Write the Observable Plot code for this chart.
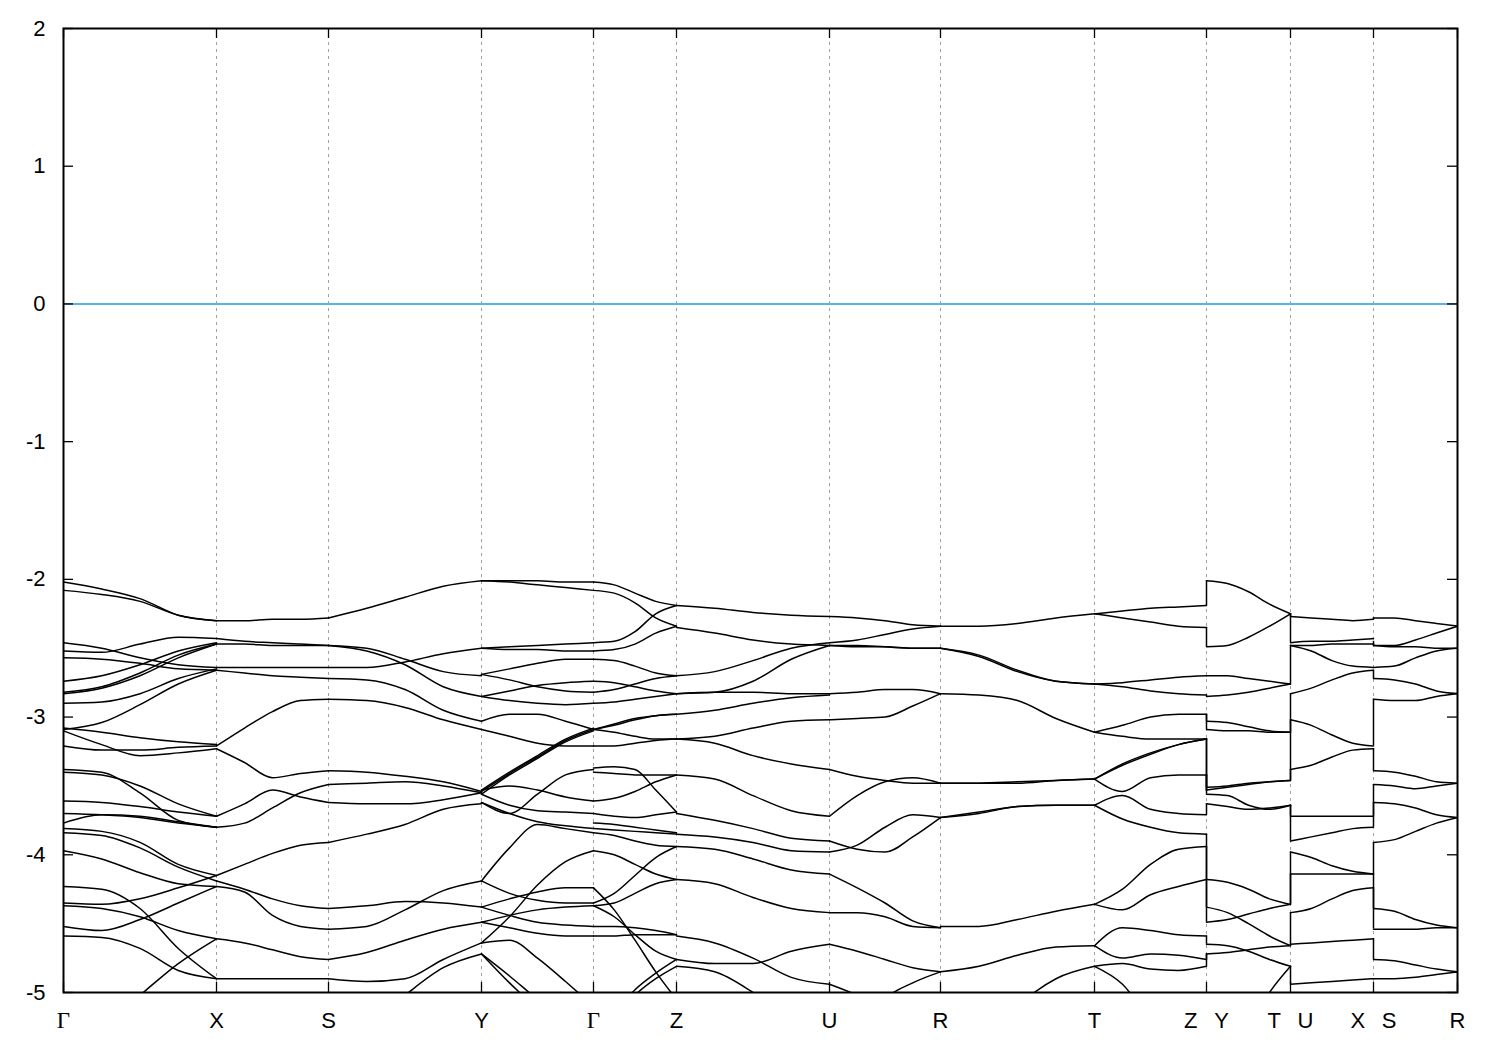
<!DOCTYPE html>
<html><head><meta charset="utf-8">
<script src="https://cdn.jsdelivr.net/npm/d3@7"></script>
<script src="https://cdn.jsdelivr.net/npm/@observablehq/plot@0.6"></script>
<style>html,body{margin:0;padding:0;background:#fff}svg{display:block}</style>
</head><body><div id="chart"></div>
<script>
// k-path node positions (fraction of total path length) and labels
const kNodes = [0, 0.10976, 0.19010, 0.29986, 0.38020, 0.43974, 0.54950, 0.62912, 0.73960, 0.81994, 0.88020, 0.93974, 1.0];
const kLabels = ["Γ","X","S","Y","Γ","Z","U","R","T","Z|Y","T|U","X|S","R"];
const yTicks = [-5, -4, -3, -2, -1, 0, 1, 2];

// Band energies (eV) sampled at 0, 1/4, 1/2, 3/4, 1 of each path segment
const bands_GX = [
  [-2.02,-2.07,-2.14,-2.26,-2.30],[-2.08,-2.11,-2.16,-2.26,-2.30],
  [-2.46,-2.50,-2.57,-2.62,-2.64],[-2.52,-2.53,-2.47,-2.42,-2.43],[-2.57,-2.58,-2.61,-2.65,-2.66],
  [-2.74,-2.70,-2.62,-2.52,-2.46],[-2.82,-2.78,-2.68,-2.55,-2.47],[-2.83,-2.79,-2.70,-2.57,-2.47],
  [-2.90,-2.89,-2.83,-2.72,-2.65],[-3.09,-3.04,-2.91,-2.76,-2.66],
  [-3.08,-3.11,-3.15,-3.18,-3.20],[-3.10,-3.20,-3.28,-3.26,-3.23],[-3.21,-3.24,-3.24,-3.22,-3.21],
  [-3.38,-3.40,-3.55,-3.75,-3.80],[-3.40,-3.42,-3.50,-3.63,-3.72],
  [-3.61,-3.62,-3.65,-3.69,-3.72],[-3.70,-3.71,-3.73,-3.77,-3.80],[-3.77,-3.71,-3.72,-3.76,-3.80],
  [-3.81,-3.83,-3.91,-4.07,-4.15],[-3.84,-3.86,-3.95,-4.09,-4.19],
  [-3.97,-4.03,-4.13,-4.21,-4.23],[-4.35,-4.36,-4.32,-4.24,-4.15],[-4.37,-4.39,-4.45,-4.55,-4.61],
  [-4.23,-4.25,-4.39,-4.68,-4.90],[-4.52,-4.55,-4.47,-4.35,-4.23],[-4.59,-4.60,-4.68,-4.84,-4.90],
  [-5.45,-5.25,-5.02,-4.79,-4.61]
];
const bands_XS = [
  [-2.30,-2.30,-2.29,-2.29,-2.28],[-2.43,-2.45,-2.46,-2.47,-2.48],[-2.47,-2.47,-2.48,-2.48,-2.48],
  [-2.64,-2.64,-2.64,-2.64,-2.64],[-2.66,-2.68,-2.70,-2.71,-2.72],
  [-3.21,-3.08,-2.96,-2.88,-2.87],[-3.23,-3.33,-3.44,-3.41,-3.39],
  [-3.72,-3.63,-3.53,-3.58,-3.62],[-3.80,-3.77,-3.66,-3.55,-3.49],
  [-4.15,-4.07,-3.99,-3.93,-3.91],[-4.19,-4.25,-4.32,-4.37,-4.39],[-4.23,-4.27,-4.44,-4.52,-4.54],
  [-4.61,-4.64,-4.69,-4.74,-4.76],[-4.90,-4.90,-4.90,-4.90,-4.90]
];
const bands_SY = [
  [-2.28,-2.21,-2.13,-2.05,-2.01],
  [-2.48,-2.50,-2.58,-2.67,-2.70],[-2.48,-2.52,-2.62,-2.78,-2.85],[-2.64,-2.64,-2.60,-2.54,-2.50],
  [-2.72,-2.73,-2.80,-2.95,-3.03],[-2.87,-2.88,-2.93,-3.02,-3.09],
  [-3.39,-3.40,-3.43,-3.47,-3.54],[-3.49,-3.48,-3.47,-3.50,-3.55],[-3.62,-3.63,-3.63,-3.60,-3.55],
  [-3.91,-3.85,-3.78,-3.67,-3.63],
  [-4.39,-4.37,-4.34,-4.35,-4.38],[-4.54,-4.52,-4.40,-4.26,-4.19],
  [-4.76,-4.71,-4.62,-4.54,-4.49],[-4.90,-4.92,-4.90,-4.76,-4.64],[-5.50,-5.25,-5.02,-4.82,-4.72]
];
const bands_YG = [
  [-2.01,-2.01,-2.01,-2.02,-2.02],[-2.01,-2.02,-2.04,-2.06,-2.08],
  [-2.50,-2.49,-2.48,-2.47,-2.46],[-2.50,-2.51,-2.51,-2.52,-2.52],
  [-2.69,-2.65,-2.61,-2.58,-2.58],[-2.69,-2.73,-2.78,-2.81,-2.82],
  [-2.85,-2.81,-2.77,-2.75,-2.74],[-2.85,-2.88,-2.90,-2.91,-2.90],
  [-3.03,-2.98,-2.98,-3.03,-3.09],[-3.09,-3.14,-3.19,-3.21,-3.21],
  [-3.53,-3.40,-3.28,-3.16,-3.08],[-3.54,-3.41,-3.29,-3.17,-3.09],[-3.56,-3.42,-3.30,-3.18,-3.10],
  [-3.53,-3.50,-3.53,-3.58,-3.61],[-3.62,-3.70,-3.56,-3.42,-3.38],
  [-3.56,-3.64,-3.68,-3.69,-3.70],[-3.62,-3.70,-3.76,-3.79,-3.81],
  [-4.19,-3.95,-3.78,-3.81,-3.84],[-4.19,-4.28,-4.33,-4.35,-4.35],
  [-4.38,-4.32,-4.27,-4.24,-4.24],[-4.49,-4.44,-4.40,-4.38,-4.37],
  [-4.38,-4.44,-4.49,-4.51,-4.52],[-4.49,-4.53,-4.57,-4.59,-4.59],
  [-4.64,-4.45,-4.22,-4.05,-3.97],[-4.64,-4.62,-4.75,-4.92,-5.10],
  [-4.72,-4.93,-5.12,-5.30,-5.50],[-4.72,-4.88,-5.05,-5.20,-5.35]
];
const bands_GZ = [
  [-2.02,-2.04,-2.10,-2.16,-2.19],[-2.08,-2.10,-2.17,-2.28,-2.34],
  [-2.46,-2.45,-2.38,-2.25,-2.19],[-2.52,-2.51,-2.47,-2.39,-2.34],
  [-2.58,-2.59,-2.63,-2.68,-2.70],[-2.74,-2.75,-2.78,-2.81,-2.83],
  [-2.82,-2.80,-2.76,-2.72,-2.70],[-2.90,-2.89,-2.87,-2.85,-2.83],
  [-3.09,-3.06,-3.02,-2.99,-2.98],[-3.09,-3.05,-3.01,-2.99,-2.98],
  [-3.09,-3.11,-3.14,-3.16,-3.16],[-3.21,-3.21,-3.19,-3.17,-3.16],
  [-3.37,-3.36,-3.38,-3.53,-3.69],[-3.40,-3.41,-3.42,-3.42,-3.42],
  [-3.61,-3.59,-3.54,-3.47,-3.42],[-3.70,-3.72,-3.73,-3.71,-3.69],
  [-3.77,-3.78,-3.80,-3.82,-3.84],[-3.81,-3.82,-3.83,-3.84,-3.85],
  [-3.84,-3.86,-3.90,-3.93,-3.94],[-3.97,-4.00,-4.07,-4.14,-4.18],
  [-4.35,-4.28,-4.15,-4.02,-3.94],[-4.37,-4.35,-4.28,-4.21,-4.18],
  [-4.52,-4.52,-4.53,-4.55,-4.58],[-4.59,-4.59,-4.58,-4.58,-4.58],
  [-4.24,-4.40,-4.62,-4.85,-5.05],[-4.37,-4.45,-4.58,-4.70,-4.76],
  [-5.40,-5.15,-4.98,-4.86,-4.76],[-5.40,-5.20,-5.02,-4.90,-4.81]
];
const bands_ZU = [
  [-2.19,-2.21,-2.24,-2.26,-2.27],[-2.35,-2.39,-2.44,-2.47,-2.48],
  [-2.70,-2.67,-2.59,-2.50,-2.46],[-2.83,-2.82,-2.74,-2.58,-2.48],
  [-2.83,-2.82,-2.82,-2.83,-2.83],[-2.98,-2.95,-2.90,-2.86,-2.84],
  [-3.16,-3.14,-3.08,-3.03,-3.02],[-3.16,-3.19,-3.28,-3.34,-3.38],
  [-3.42,-3.45,-3.57,-3.68,-3.72],[-3.70,-3.75,-3.81,-3.88,-3.90],
  [-3.85,-3.87,-3.91,-3.97,-3.98],[-3.94,-3.96,-4.03,-4.11,-4.14],
  [-4.18,-4.21,-4.31,-4.39,-4.42],[-4.59,-4.64,-4.75,-4.89,-4.94],
  [-4.76,-4.79,-4.79,-4.70,-4.65],[-4.81,-4.85,-5.00,-5.20,-5.40]
];
const bands_UR = [
  [-2.27,-2.28,-2.30,-2.33,-2.34],[-2.46,-2.44,-2.40,-2.36,-2.34],
  [-2.48,-2.48,-2.49,-2.50,-2.50],[-2.48,-2.49,-2.49,-2.50,-2.50],
  [-2.83,-2.82,-2.80,-2.80,-2.83],[-3.02,-3.01,-3.00,-2.92,-2.83],
  [-3.38,-3.43,-3.46,-3.48,-3.48],[-3.72,-3.57,-3.47,-3.44,-3.48],
  [-3.90,-3.96,-3.98,-3.87,-3.73],[-3.98,-3.93,-3.80,-3.71,-3.73],
  [-4.14,-4.24,-4.35,-4.48,-4.53],[-4.42,-4.42,-4.45,-4.52,-4.53],
  [-4.65,-4.70,-4.76,-4.82,-4.85],[-4.94,-5.02,-5.12,-5.22,-5.30],
  [-5.60,-5.35,-5.05,-4.93,-4.85]
];
const bands_RT = [
  [-2.34,-2.34,-2.32,-2.28,-2.25],
  [-2.50,-2.56,-2.67,-2.74,-2.76],[-2.50,-2.55,-2.66,-2.74,-2.76],
  [-2.83,-2.84,-2.88,-3.01,-3.11],
  [-3.48,-3.48,-3.48,-3.46,-3.45],[-3.48,-3.48,-3.47,-3.46,-3.45],
  [-3.73,-3.70,-3.65,-3.64,-3.64],[-3.73,-3.69,-3.65,-3.64,-3.64],
  [-4.52,-4.52,-4.47,-4.41,-4.36],[-4.85,-4.81,-4.73,-4.67,-4.66],
  [-5.70,-5.40,-5.10,-4.90,-4.81]
];
const bands_TZ = [
  [-2.25,-2.23,-2.21,-2.20,-2.19],[-2.25,-2.28,-2.31,-2.34,-2.35],
  [-2.76,-2.75,-2.73,-2.71,-2.70],[-2.76,-2.78,-2.81,-2.83,-2.84],
  [-3.11,-3.06,-3.00,-2.98,-2.98],[-3.11,-3.14,-3.16,-3.16,-3.16],
  [-3.45,-3.34,-3.26,-3.20,-3.16],[-3.45,-3.35,-3.27,-3.20,-3.16],
  [-3.45,-3.54,-3.44,-3.42,-3.42],[-3.64,-3.57,-3.67,-3.70,-3.71],
  [-3.64,-3.74,-3.80,-3.84,-3.85],
  [-4.36,-4.25,-4.07,-3.96,-3.94],[-4.36,-4.40,-4.29,-4.23,-4.18],
  [-4.66,-4.53,-4.55,-4.58,-4.59],[-4.66,-4.75,-4.72,-4.73,-4.76],
  [-4.81,-4.79,-4.83,-4.84,-4.81],[-4.81,-4.94,-5.20,-5.40,-5.60]
];
const bands_YT = [
  [-2.01,-2.03,-2.09,-2.18,-2.25],[-2.49,-2.48,-2.42,-2.34,-2.25],
  [-2.70,-2.70,-2.72,-2.74,-2.76],[-2.85,-2.84,-2.82,-2.79,-2.76],
  [-3.03,-3.04,-3.07,-3.10,-3.11],[-3.09,-3.10,-3.10,-3.11,-3.11],
  [-3.51,-3.50,-3.48,-3.47,-3.46],[-3.53,-3.51,-3.49,-3.47,-3.46],
  [-3.56,-3.57,-3.64,-3.67,-3.64],[-3.63,-3.65,-3.67,-3.66,-3.64],
  [-4.18,-4.20,-4.25,-4.32,-4.36],[-4.38,-4.42,-4.50,-4.59,-4.66],
  [-4.49,-4.47,-4.43,-4.39,-4.36],
  [-4.65,-4.66,-4.70,-4.76,-4.81],[-4.72,-4.71,-4.69,-4.67,-4.66],
  [-6.00,-5.60,-5.25,-5.00,-4.81]
];
const bands_UX = [
  [-2.27,-2.28,-2.29,-2.30,-2.29],[-2.46,-2.45,-2.45,-2.44,-2.43],
  [-2.48,-2.48,-2.47,-2.47,-2.47],[-2.48,-2.52,-2.59,-2.63,-2.64],
  [-2.83,-2.79,-2.73,-2.68,-2.66],[-3.02,-3.06,-3.13,-3.19,-3.21],
  [-3.38,-3.35,-3.29,-3.24,-3.23],[-3.72,-3.72,-3.72,-3.72,-3.72],
  [-3.90,-3.87,-3.84,-3.81,-3.80],[-3.98,-4.02,-4.08,-4.12,-4.14],
  [-4.14,-4.14,-4.14,-4.14,-4.14],[-4.42,-4.39,-4.32,-4.26,-4.24],
  [-4.65,-4.64,-4.63,-4.62,-4.61],[-4.94,-4.93,-4.92,-4.91,-4.90]
];
const bands_SR = [
  [-2.28,-2.28,-2.30,-2.32,-2.34],[-2.48,-2.48,-2.44,-2.39,-2.34],
  [-2.48,-2.49,-2.49,-2.50,-2.50],[-2.64,-2.63,-2.57,-2.52,-2.50],
  [-2.72,-2.73,-2.76,-2.81,-2.83],[-2.87,-2.88,-2.88,-2.85,-2.83],
  [-3.39,-3.40,-3.43,-3.47,-3.48],[-3.49,-3.50,-3.52,-3.50,-3.48],
  [-3.62,-3.63,-3.66,-3.71,-3.73],[-3.91,-3.89,-3.83,-3.77,-3.73],
  [-4.39,-4.41,-4.47,-4.51,-4.53],[-4.54,-4.54,-4.54,-4.53,-4.53],
  [-4.76,-4.77,-4.80,-4.83,-4.85],[-4.90,-4.90,-4.89,-4.87,-4.85]
];
// vertical connections at path discontinuities: [energy before, energy after]
const jumps_ZY = [[-2.19,-2.01],[-2.35,-2.49],[-2.70,-2.70],[-2.84,-2.85],[-2.98,-3.03],[-2.98,-3.09],
  [-3.16,-3.51],[-3.16,-3.53],[-3.42,-3.54],[-3.42,-3.56],[-3.71,-3.63],[-3.85,-4.18],[-3.94,-4.38],
  [-4.18,-4.49],[-4.59,-4.65],[-4.76,-4.72],[-4.81,-4.72]];
const jumps_TU = [[-2.25,-2.27],[-2.25,-2.46],[-2.76,-2.48],[-3.11,-2.83],[-3.46,-3.02],[-3.46,-3.38],
  [-3.64,-3.72],[-3.64,-3.90],[-4.36,-3.98],[-4.36,-4.14],[-4.66,-4.42],[-4.66,-4.65],[-4.81,-4.94]];
const jumps_XS = [[-2.29,-2.28],[-2.45,-2.48],[-2.47,-2.48],[-2.66,-2.72],[-3.21,-2.87],[-3.23,-3.39],
  [-3.72,-3.49],[-3.80,-3.62],[-4.14,-3.91],[-4.14,-4.39],[-4.24,-4.54],[-4.61,-4.76],[-4.90,-4.90]];

const segments = [bands_GX, bands_XS, bands_SY, bands_YG, bands_GZ, bands_ZU, bands_UR, bands_RT, bands_TZ, bands_YT, bands_UX, bands_SR];

const rows = [];
segments.forEach((bands, s) => {
  const k0 = kNodes[s], k1 = kNodes[s + 1];
  bands.forEach((vals, b) => {
    const n = vals.length;
    vals.forEach((e, i) => rows.push({k: k0 + (k1 - k0) * i / (n - 1), e, id: s + "-" + b}));
  });
});
const jumps = [];
[[9, jumps_ZY], [10, jumps_TU], [11, jumps_XS]].forEach(([node, list]) =>
  list.forEach(([a, b]) => jumps.push({k: kNodes[node], a, b})));

const fmtLabel = s => s.replace("|", "\u00a0\u00a0\u2009");
const idx = d3.range(kNodes.length);
const frameW = 1500 - 63 - 43, frameH = 1050 - 28 - 58;

const chart = Plot.plot({
  width: 1500, height: 1050,
  marginLeft: 63, marginRight: 43, marginTop: 28, marginBottom: 58,
  x: {domain: [0, 1], axis: null},
  y: {domain: [-5, 2], ticks: yTicks, tickFormat: d => String(d), tickSize: 0, tickPadding: 18, label: null},
  style: {fontFamily: "'Liberation Sans', Arial, sans-serif", fontSize: "22px", background: "#fff", color: "#000"},
  marks: [
    Plot.ruleX(kNodes.slice(1, -1), {stroke: "#a0a0a0", strokeWidth: 1, strokeDasharray: "3,4"}),
    Plot.ruleY([0], {stroke: "#56b4e9", strokeWidth: 2}),
    Plot.line(rows, {x: "k", y: "e", z: "id", curve: "monotone-x", stroke: "#000", strokeWidth: 1.5, clip: true}),
    Plot.ruleX(jumps, {x: "k", y1: "a", y2: "b", stroke: "#000", strokeWidth: 1.5, clip: true}),
    Plot.tickY(yTicks, {y: d => d, insetRight: frameW - 10, stroke: "#000", strokeWidth: 1.3}),
    Plot.tickY(yTicks, {y: d => d, insetLeft: frameW - 10, stroke: "#000", strokeWidth: 1.3}),
    Plot.tickX(kNodes, {x: d => d, insetTop: frameH - 10, stroke: "#000", strokeWidth: 1.3}),
    Plot.tickX(kNodes, {x: d => d, insetBottom: frameH - 10, stroke: "#000", strokeWidth: 1.3}),
    Plot.frame({stroke: "#000", strokeWidth: 2}),
    Plot.text(idx.filter(i => kLabels[i] !== "Γ"), {x: i => kNodes[i], text: i => fmtLabel(kLabels[i]), frameAnchor: "bottom", lineAnchor: "middle", dy: 28, fontSize: 22, fill: "#000"}),
    Plot.text(idx.filter(i => kLabels[i] === "Γ"), {x: i => kNodes[i], text: i => kLabels[i], frameAnchor: "bottom", lineAnchor: "middle", dy: 28, fontSize: 23, fontFamily: "'Liberation Serif', 'DejaVu Serif', serif", fill: "#000"})
  ]
});
document.getElementById("chart").appendChild(chart);
</script></body></html>
